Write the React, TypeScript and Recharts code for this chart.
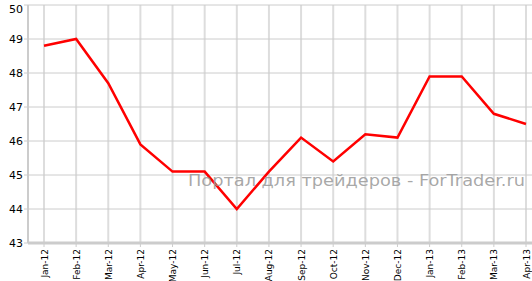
import React from "react";
import { LineChart, Line, XAxis, YAxis, CartesianGrid } from "recharts";

const months = ["Jan-12","Feb-12","Mar-12","Apr-12","May-12","Jun-12","Jul-12","Aug-12","Sep-12","Oct-12","Nov-12","Dec-12","Jan-13","Feb-13","Mar-13","Apr-13"];
const values = [48.8, 49.0, 47.7, 45.9, 45.1, 45.1, 44.0, 45.1, 46.1, 45.4, 46.2, 46.1, 47.9, 47.9, 46.8, 46.5];
const yTicks = [43, 44, 45, 46, 47, 48, 49, 50];
const watermark = "Портал для трейдеров - ForTrader.ru";

const data = months.map((m, i) => ({ month: m, value: values[i] }));

const FONT = "'DejaVu Sans', Verdana, sans-serif";

const XTick = (props: any) => {
  const { x, y, payload } = props;
  return (
    <g transform={`translate(${x},${y})`}>
      <text
        x={0}
        y={0}
        dy={3.5}
        textAnchor="end"
        transform="rotate(-90)"
        fontSize={9}
        fontFamily={FONT}
        fill="#000"
      >
        {payload.value}
      </text>
    </g>
  );
};

const YTick = (props: any) => {
  const { x, y, payload } = props;
  const yy = Math.max(Number(y), 9);
  return (
    <text x={x} y={yy + 4} textAnchor="end" fontSize={11} fontFamily={FONT} fill="#000">
      {payload.value}
    </text>
  );
};

export default function App() {
  return (
    <div
      style={{
        position: "fixed",
        top: 0,
        left: 0,
        width: 532,
        height: 281,
        overflow: "hidden",
        background: "#fff",
      }}
    >
      <LineChart
        width={542}
        height={281}
        data={data}
        margin={{ top: 5, right: 0, left: 0, bottom: 0 }}
      >
        <CartesianGrid horizontal={false} stroke="#dddddd" strokeWidth={2} />
        <CartesianGrid vertical={false} stroke="#cccccc" strokeWidth={1} />
        <XAxis
          dataKey="month"
          height={38}
          interval={0}
          padding={{ left: 16, right: 16 }}
          tick={<XTick />}
          tickSize={4}
          tickMargin={2}
          stroke="#cccccc"
          axisLine={{ stroke: "#cccccc", strokeWidth: 3 }}
          tickLine={{ stroke: "#cccccc", strokeWidth: 1 }}
        />
        <YAxis
          width={28}
          domain={[43, 50]}
          ticks={yTicks}
          interval={0}
          tick={<YTick />}
          tickSize={4}
          tickMargin={1}
          axisLine={{ stroke: "#cccccc", strokeWidth: 2 }}
          tickLine={{ stroke: "#cccccc", strokeWidth: 1 }}
        />
        <Line
          type="linear"
          dataKey="value"
          stroke="#ff0000"
          strokeWidth={2.5}
          dot={false}
          activeDot={false}
          isAnimationActive={false}
        />
      </LineChart>
      <svg
        width={532}
        height={281}
        style={{ position: "absolute", left: 0, top: 0, pointerEvents: "none" }}
      >
        <text
          x={188}
          y={186}
          fontSize={16}
          fontFamily={FONT}
          fill="#999999"
          fillOpacity={0.85}
          textLength={337}
          lengthAdjust="spacingAndGlyphs"
        >
          {watermark}
        </text>
      </svg>
    </div>
  );
}
